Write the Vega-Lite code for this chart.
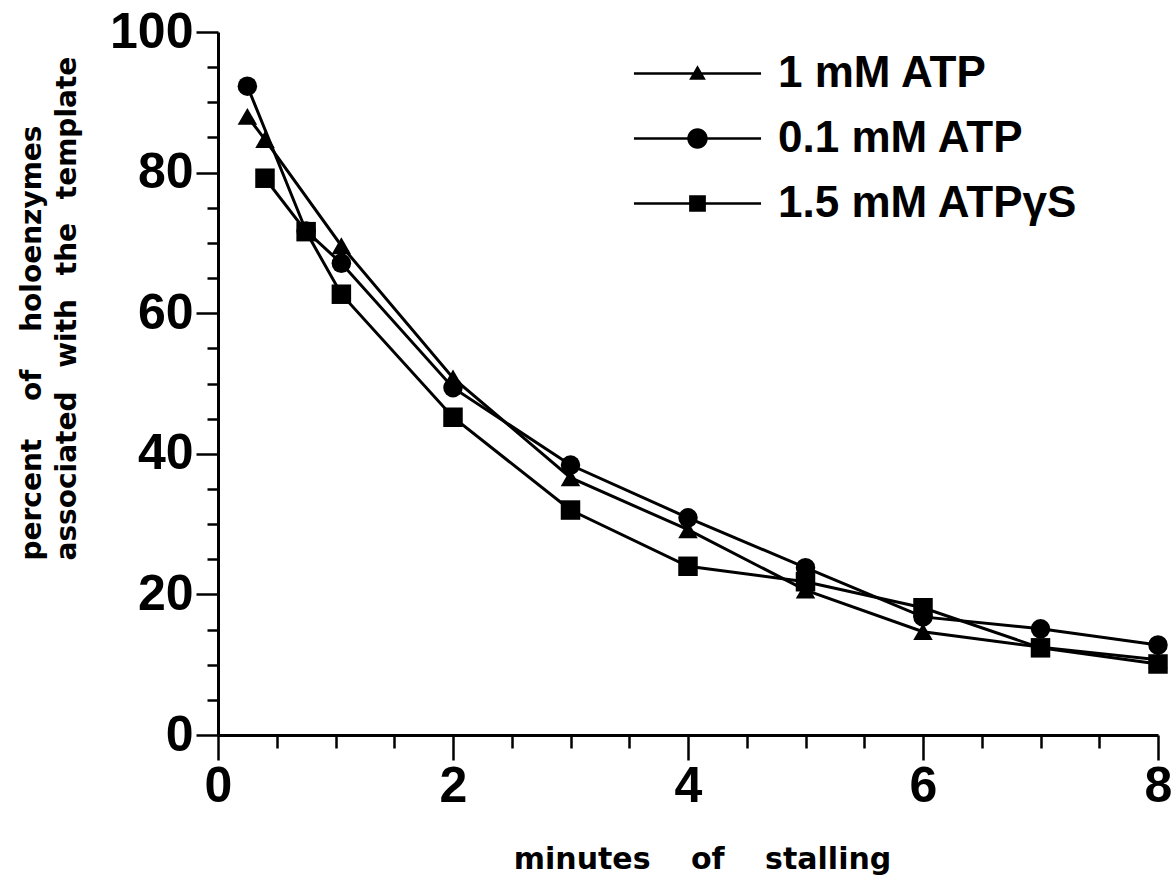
{
  "$schema": "https://vega.github.io/schema/vega-lite/v6.json",
  "width": 940,
  "height": 703,
  "autosize": {"type": "none"},
  "padding": {"left": 218, "top": 32, "right": 15, "bottom": 152},
  "background": "white",
  "config": {
    "view": {"stroke": null},
    "axis": {
      "grid": false,
      "domainColor": "black",
      "domainWidth": 3,
      "tickColor": "black",
      "tickWidth": 2.5,
      "labelColor": "black",
      "labelFont": "Liberation Sans",
      "labelFontWeight": "bold",
      "labelFontSize": 50,
      "labelFlush": false,
      "labelOverlap": false,
      "titleColor": "black",
      "titleFont": "DejaVu Sans",
      "titleFontWeight": "bold"
    }
  },
  "data": {
    "values": [
      {"series": "1 mM ATP", "x": 0.25, "y": 88},
      {"series": "1 mM ATP", "x": 0.4, "y": 84.7},
      {"series": "1 mM ATP", "x": 1.05, "y": 69.6},
      {"series": "1 mM ATP", "x": 2, "y": 50.8},
      {"series": "1 mM ATP", "x": 3, "y": 36.6},
      {"series": "1 mM ATP", "x": 4, "y": 29.2},
      {"series": "1 mM ATP", "x": 5, "y": 20.6},
      {"series": "1 mM ATP", "x": 6, "y": 14.7},
      {"series": "1 mM ATP", "x": 7, "y": 12.5},
      {"series": "1 mM ATP", "x": 8, "y": 10.7},
      {"series": "0.1 mM ATP", "x": 0.25, "y": 92.3},
      {"series": "0.1 mM ATP", "x": 0.75, "y": 71.7},
      {"series": "0.1 mM ATP", "x": 1.05, "y": 67.1},
      {"series": "0.1 mM ATP", "x": 2, "y": 49.4},
      {"series": "0.1 mM ATP", "x": 3, "y": 38.4},
      {"series": "0.1 mM ATP", "x": 4, "y": 30.9},
      {"series": "0.1 mM ATP", "x": 5, "y": 23.8},
      {"series": "0.1 mM ATP", "x": 6, "y": 16.8},
      {"series": "0.1 mM ATP", "x": 7, "y": 15.1},
      {"series": "0.1 mM ATP", "x": 8, "y": 12.8},
      {"series": "1.5 mM ATPγS", "x": 0.4, "y": 79.2},
      {"series": "1.5 mM ATPγS", "x": 0.75, "y": 71.6},
      {"series": "1.5 mM ATPγS", "x": 1.05, "y": 62.7},
      {"series": "1.5 mM ATPγS", "x": 2, "y": 45.2},
      {"series": "1.5 mM ATPγS", "x": 3, "y": 32},
      {"series": "1.5 mM ATPγS", "x": 4, "y": 24},
      {"series": "1.5 mM ATPγS", "x": 5, "y": 21.8},
      {"series": "1.5 mM ATPγS", "x": 6, "y": 18.1},
      {"series": "1.5 mM ATPγS", "x": 7, "y": 12.4},
      {"series": "1.5 mM ATPγS", "x": 8, "y": 10.1}
    ]
  },
  "encoding": {
    "x": {
      "field": "x",
      "type": "quantitative",
      "scale": {"domain": [0, 8], "nice": false, "zero": false},
      "axis": {
        "values": [0, 0.5, 1, 1.5, 2, 2.5, 3, 3.5, 4, 4.5, 5, 5.5, 6, 6.5, 7, 7.5, 8],
        "tickSize": {"condition": {"test": "datum.value % 2 === 0", "value": 25}, "value": 13},
        "labelExpr": "datum.value % 2 === 0 ? format(datum.value, 'd') : ''",
        "labelPadding": 1,
        "title": "minutes\u2003 of\u2003 stalling",
        "titleFontSize": 30,
        "titleX": 484,
        "titleY": 133,
        "titleBaseline": "alphabetic",
        "titleAnchor": null
      }
    },
    "y": {
      "field": "y",
      "type": "quantitative",
      "scale": {"domain": [0, 100], "nice": false},
      "axis": {
        "values": [0, 5, 10, 15, 20, 25, 30, 35, 40, 45, 50, 55, 60, 65, 70, 75, 80, 85, 90, 95, 100],
        "tickSize": {"condition": {"test": "datum.value % 20 === 0", "value": 22}, "value": 11},
        "labelExpr": "datum.value % 20 === 0 ? format(datum.value, 'd') : ''",
        "labelPadding": 3,
        "title": ["percent\u2003 of\u2003 holoenzymes", "associated\u2002 with\u2002 the\u2002 template"],
        "titleFontSize": 28,
        "titleLineHeight": 35,
        "titleAngle": -90,
        "titleAlign": "left",
        "titleBaseline": "top",
        "titleX": -200,
        "titleY": 528
      }
    }
  },
  "layer": [
    {
      "mark": {"type": "line", "color": "black", "strokeWidth": 3},
      "encoding": {"detail": {"field": "series"}}
    },
    {
      "mark": {"type": "point", "filled": true, "color": "black", "opacity": 1, "size": 380},
      "encoding": {
        "shape": {
          "field": "series",
          "type": "nominal",
          "scale": {
            "domain": ["1 mM ATP", "0.1 mM ATP", "1.5 mM ATPγS"],
            "range": ["triangle-up", "circle", "square"]
          },
          "legend": null
        }
      }
    },
    {
      "transform": [{"filter": "false"}],
      "mark": {"type": "point", "filled": true, "color": "black", "opacity": 1, "size": 3844},
      "encoding": {
        "shape": {
          "field": "series",
          "type": "nominal",
          "scale": {
            "domain": ["1 mM ATP", "0.1 mM ATP", "1.5 mM ATPγS"],
            "range": [
              "M-2.05,-0.04H2.05V0.04H-2.05ZM0,-0.27L0.27,0.2L-0.27,0.2Z",
              "M-2.05,-0.04H2.05V0.04H-2.05ZM0.33,0A0.33,0.33,0,1,1,-0.33,0A0.33,0.33,0,1,1,0.33,0Z",
              "M-2.05,-0.04H2.05V0.04H-2.05ZM-0.27,-0.27H0.27V0.27H-0.27Z"
            ]
          },
          "legend": {
            "title": null,
            "orient": "none",
            "legendX": 448,
            "legendY": 10,
            "padding": 0,
            "rowPadding": 11,
            "symbolSize": 3844,
            "symbolFillColor": "black",
            "symbolStrokeColor": "black",
            "symbolStrokeWidth": 0.5,
            "symbolOpacity": 1,
            "labelFont": "Liberation Sans",
            "labelFontWeight": "bold",
            "labelFontSize": 44,
            "labelColor": "black",
            "labelOffset": 49,
            "labelLimit": 400,
            "encode": {
              "symbols": {
                "update": {
                  "fill": {"value": "black"},
                  "stroke": {"value": "black"},
                  "strokeWidth": {"value": 0.5},
                  "opacity": {"value": 1}
                }
              }
            }
          }
        }
      }
    }
  ],
  "resolve": {"scale": {"shape": "independent"}}
}
